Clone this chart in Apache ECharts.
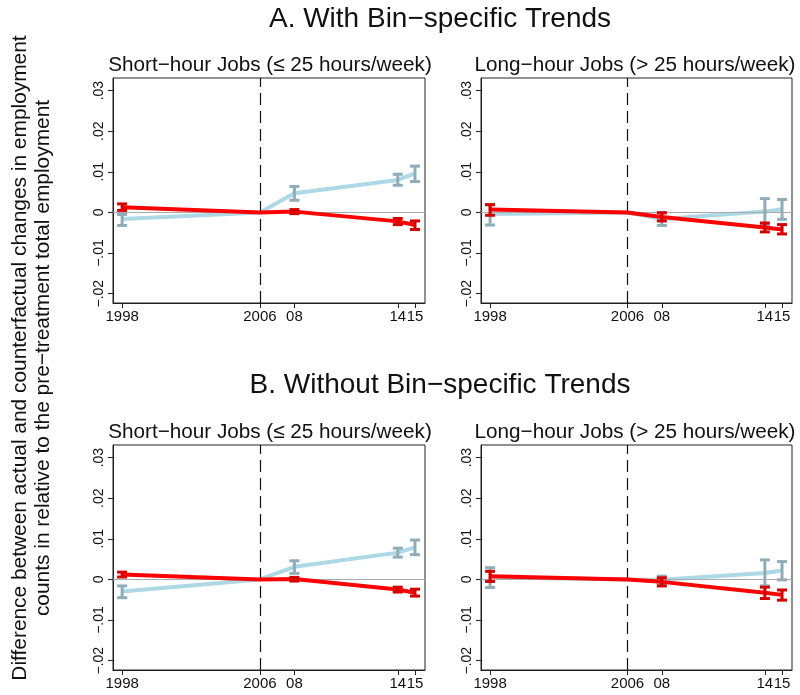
<!DOCTYPE html>
<html><head><meta charset="utf-8">
<script src="https://cdn.jsdelivr.net/npm/echarts@6/dist/echarts.min.js"></script>
<style>html,body{margin:0;padding:0;background:#fff}#c{width:800px;height:695px}</style>
</head><body><div id="c"></div>
<script>
const years = [1998, 2006, 2008, 2014, 2015];
const xTickValues = [1998, 2006, 2008, 2014, 2015];
const xTickLabels = ['1998', '2006', '08', '14', '15'];
const yTickValues = [-0.02, -0.01, 0, 0.01, 0.02, 0.03];
const yTickLabels = ['\u2212.02', '\u2212.01', '0', '.01', '.02', '.03'];
const sectionTitles = ['A. With Bin\u2212specific Trends', 'B. Without Bin\u2212specific Trends'];
const panelTitles = ['Short\u2212hour Jobs (\u2264 25 hours/week)', 'Long\u2212hour Jobs (> 25 hours/week)'];
const yAxisTitle = 'Difference between actual and counterfactual changes in employment\ncounts in relative to the pre\u2212treatment total employment';

// Panel A, short-hour
const aShortBlueEst = [-0.0016, 0, 0.0047, 0.0080, 0.0096];
const aShortBlueLo  = [-0.0032, null, 0.0030, 0.0067, 0.0076];
const aShortBlueHi  = [-0.0005, null, 0.0064, 0.0094, 0.0114];
const aShortRedEst  = [0.0013, 0, 0.0002, -0.0022, -0.0031];
const aShortRedLo   = [0.0005, null, -0.0003, -0.0030, -0.0042];
const aShortRedHi   = [0.0021, null, 0.0007, -0.0015, -0.0021];
// Panel A, long-hour
const aLongBlueEst = [-0.0004, 0, -0.0016, 0.0002, 0.0008];
const aLongBlueLo  = [-0.0031, null, -0.0032, -0.0032, -0.0017];
const aLongBlueHi  = [0.0020, null, 0.0000, 0.0034, 0.0032];
const aLongRedEst  = [0.0007, 0, -0.0011, -0.0037, -0.0042];
const aLongRedLo   = [-0.0007, null, -0.0021, -0.0048, -0.0053];
const aLongRedHi   = [0.0019, null, -0.0001, -0.0026, -0.0030];
// Panel B, short-hour
const bShortBlueEst = [-0.0030, 0, 0.0031, 0.0066, 0.0079];
const bShortBlueLo  = [-0.0045, null, 0.0015, 0.0055, 0.0061];
const bShortBlueHi  = [-0.0016, null, 0.0046, 0.0077, 0.0097];
const bShortRedEst  = [0.0012, 0, 0.0001, -0.0025, -0.0033];
const bShortRedLo   = [0.0006, null, -0.0004, -0.0031, -0.0041];
const bShortRedHi   = [0.0018, null, 0.0005, -0.0019, -0.0024];
// Panel B, long-hour
const bLongBlueEst = [0.0005, 0, -0.0001, 0.0016, 0.0022];
const bLongBlueLo  = [-0.0020, null, -0.0010, -0.0016, -0.0001];
const bLongBlueHi  = [0.0029, null, 0.0008, 0.0048, 0.0044];
const bLongRedEst  = [0.0008, 0, -0.0006, -0.0033, -0.0038];
const bLongRedLo   = [-0.0005, null, -0.0016, -0.0047, -0.0051];
const bLongRedHi   = [0.0020, null, 0.0004, -0.0019, -0.0026];

const panels = [
  {blue:[aShortBlueEst,aShortBlueLo,aShortBlueHi], red:[aShortRedEst,aShortRedLo,aShortRedHi]},
  {blue:[aLongBlueEst,aLongBlueLo,aLongBlueHi], red:[aLongRedEst,aLongRedLo,aLongRedHi]},
  {blue:[bShortBlueEst,bShortBlueLo,bShortBlueHi], red:[bShortRedEst,bShortRedLo,bShortRedHi]},
  {blue:[bLongBlueEst,bLongBlueLo,bLongBlueHi], red:[bLongRedEst,bLongRedLo,bLongRedHi]}
];

const FONT = 'Liberation Sans, Arial, sans-serif';
const gridPos = [
  {left:113, top:78, width:312, height:225},
  {left:481, top:78, width:311, height:225},
  {left:113, top:445, width:312, height:225},
  {left:481, top:445, width:311, height:225}
];

const BLUE_LINE = '#add8e6', BLUE_ERR = '#8fadb8', RED_LINE = '#ff0000', RED_ERR = '#d40000';

function errRender(color) {
  return function (params, api) {
    const x = api.value(0);
    const lo = api.coord([x, api.value(1)]);
    const hi = api.coord([x, api.value(2)]);
    const cap = 5;
    const st = {stroke: color, lineWidth: 3};
    return {type:'group', children:[
      {type:'line', shape:{x1:lo[0], y1:lo[1], x2:hi[0], y2:hi[1]}, style:st},
      {type:'line', shape:{x1:lo[0]-cap, y1:lo[1], x2:lo[0]+cap, y2:lo[1]}, style:st},
      {type:'line', shape:{x1:hi[0]-cap, y1:hi[1], x2:hi[0]+cap, y2:hi[1]}, style:st}
    ]};
  };
}

const grid = [], xAxis = [], yAxis = [], series = [];
panels.forEach((p, i) => {
  grid.push(Object.assign({show:true, borderColor:'#222', borderWidth:1, backgroundColor:'#fff'}, gridPos[i]));
  xAxis.push({
    type:'value', gridIndex:i, min:1997.47, max:2015.58,
    splitLine:{show:false},
    axisLine:{show:true, onZero:false, lineStyle:{color:'#222', width:1}},
    axisTick:{show:true, length:5, customValues:xTickValues, lineStyle:{color:'#222'}},
    axisLabel:{customValues:xTickValues, color:'#111', fontSize:15, fontFamily:FONT, margin:6,
      formatter: v => xTickLabels[xTickValues.indexOf(Math.round(v))]}
  });
  yAxis.push({
    type:'value', gridIndex:i, min:-0.0223, max:0.0331,
    splitLine:{show:false},
    axisLine:{show:true, onZero:false, lineStyle:{color:'#222', width:1}},
    axisTick:{show:true, length:5, customValues:yTickValues, lineStyle:{color:'#222'}},
    axisLabel:{customValues:yTickValues, rotate:90, color:'#111', fontSize:14, fontFamily:FONT, margin:7,
      formatter: v => yTickLabels[yTickValues.findIndex(t => Math.abs(t - v) < 1e-9)]}
  });
  // reference lines
  series.push({
    type:'line', xAxisIndex:i, yAxisIndex:i, data:[[2006, 0]], symbol:'none', lineStyle:{width:0}, z:1,
    silent:true,
    markLine:{symbol:'none', silent:true, label:{show:false}, animation:false,
      data:[
        {yAxis:0, lineStyle:{color:'#aaaaaa', width:1, type:'solid'}},
        {xAxis:2006, lineStyle:{color:'#111', width:1.2, type:[12,6]}}
      ]}
  });
  const mk = (arr, lineColor, errColor, z) => {
    series.push({
      type:'line', xAxisIndex:i, yAxisIndex:i, symbol:'none', z:z, animation:false,
      lineStyle:{color:lineColor, width:4},
      data: years.map((y, k) => [y, arr[0][k]])
    });
    series.push({
      type:'custom', xAxisIndex:i, yAxisIndex:i, z:z+1, animation:false,
      renderItem: errRender(errColor),
      encode:{x:0, y:[1,2]},
      data: years.map((y, k) => [y, arr[1][k], arr[2][k]]).filter(d => d[1] !== null)
    });
  };
  mk(p.blue, BLUE_LINE, BLUE_ERR, 3);
  mk(p.red, RED_LINE, RED_ERR, 5);
});

const graphic = [
  {type:'text', x:440, y:19, style:{text:sectionTitles[0], font:'28px '+FONT, fill:'#111', textAlign:'center', textVerticalAlign:'middle'}},
  {type:'text', x:440, y:385, style:{text:sectionTitles[1], font:'28px '+FONT, fill:'#111', textAlign:'center', textVerticalAlign:'middle'}},
  {type:'text', x:270, y:65, style:{text:panelTitles[0], font:'20.7px '+FONT, fill:'#111', textAlign:'center', textVerticalAlign:'middle'}},
  {type:'text', x:635, y:65, style:{text:panelTitles[1], font:'20.7px '+FONT, fill:'#111', textAlign:'center', textVerticalAlign:'middle'}},
  {type:'text', x:270, y:432, style:{text:panelTitles[0], font:'20.7px '+FONT, fill:'#111', textAlign:'center', textVerticalAlign:'middle'}},
  {type:'text', x:635, y:432, style:{text:panelTitles[1], font:'20.7px '+FONT, fill:'#111', textAlign:'center', textVerticalAlign:'middle'}},
  {type:'text', x:32, y:358, rotation:Math.PI/2, style:{text:yAxisTitle, font:'20.9px '+FONT, lineHeight:23, fill:'#111', textAlign:'center', textVerticalAlign:'middle'}}
];

const chart = echarts.init(document.getElementById('c'), null, {renderer:'canvas'});
chart.setOption({animation:false, backgroundColor:'#fff', grid, xAxis, yAxis, series, graphic});
</script></body></html>
